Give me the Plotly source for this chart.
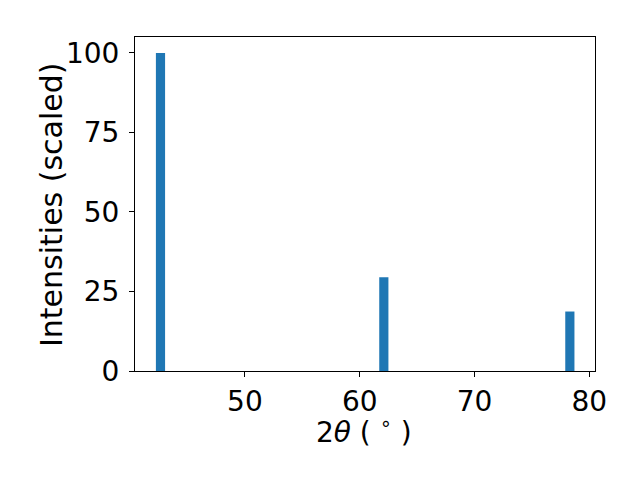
import plotly.graph_objects as go

two_theta = [42.65, 62.1, 78.3]
intensities = [100.0, 29.5, 18.7]
x_ticks = [50, 60, 70, 80]
y_ticks = [0, 25, 50, 75, 100]
x_label = "2<i>θ</i> ( <sup>∘</sup> )"
y_label = "Intensities (scaled)"

fig = go.Figure()
fig.add_trace(go.Bar(x=two_theta, y=intensities, width=0.8,
                     marker=dict(color="#1f77b4", line=dict(width=0))))

font = dict(family="DejaVu Sans", size=28, color="black")
fig.update_layout(
    width=640, height=480,
    margin=dict(l=135, r=45, t=37, b=109),
    paper_bgcolor="white", plot_bgcolor="white",
    showlegend=False,
    font=font,
)
fig.update_xaxes(
    range=[40.43, 80.49], tickvals=x_ticks, ticks="outside", ticklen=5, tickwidth=1,
    tickcolor="black", showline=True, linecolor="black", linewidth=1, mirror=True,
    showgrid=False, zeroline=False, tickfont=font,
)
fig.update_yaxes(
    range=[0, 105], tickvals=y_ticks, ticks="outside", ticklen=5, tickwidth=1,
    tickcolor="black", showline=True, linecolor="black", linewidth=1, mirror=True,
    showgrid=False, zeroline=False, tickfont=font, ticklabelstandoff=4,
)
fig.add_annotation(text=x_label, xref="paper", yref="paper", x=0.498, y=-0.177,
                   xanchor="center", yanchor="middle", showarrow=False,
                   font=dict(family="DejaVu Sans", size=28, color="black"))
fig.add_annotation(text=y_label, xref="paper", yref="paper", x=-0.1826, y=0.497,
                   xanchor="center", yanchor="middle", showarrow=False, textangle=-90,
                   font=dict(family="DejaVu Sans", size=30, color="black"))
fig.write_html("out.html", config={"displayModeBar": False},
               post_script="document.body.style.margin='0';")
